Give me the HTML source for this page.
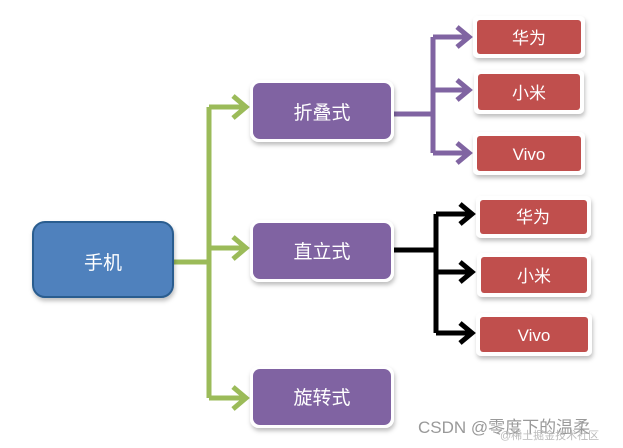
<!DOCTYPE html>
<html><head><meta charset="utf-8"><style>
body{margin:0;background:#fff;width:623px;height:443px;overflow:hidden}
</style></head><body>
<svg width="623" height="443" xmlns="http://www.w3.org/2000/svg" font-family="Liberation Sans, Noto Sans CJK SC, sans-serif">
<defs>
<filter id="s" x="-20%" y="-20%" width="140%" height="150%"><feDropShadow dx="1" dy="3" stdDeviation="2" flood-color="#000" flood-opacity="0.25"/></filter>
</defs>
<g fill="none" stroke-width="5" stroke-linejoin="miter">
<path d="M173 262H209M209 107V398M209 107H245M209 248H245M209 398H245" stroke="#9bbb59"/>
<path d="M233 96L246 107L233 118M233 237L246 248L233 259M233 387L246 398L233 409" stroke="#9bbb59" stroke-width="5"/>
<path d="M394 114H433M433 37V153M433 37H468M433 90H468M433 153H468" stroke="#8064a2"/>
<path d="M457 27L469 37L457 47M457 80L469 90L457 100M457 143L469 153L457 163" stroke="#8064a2"/>
<path d="M394 250H436M436 214V333M436 214H471M436 272H471M436 333H471" stroke="#000"/>
<path d="M460 204L472 214L460 224M460 262L472 272L460 282M460 323L472 333L460 343" stroke="#000"/>
</g>
<g filter="url(#s)">
<rect x="33" y="222" width="140" height="75" rx="12" fill="#4f81bd" stroke="#2c5d8f" stroke-width="2"/>
<rect x="250" y="80" width="144" height="62" rx="9" fill="#fff"/>
<rect x="253" y="83" width="138" height="56" rx="7" fill="#8064a2"/>
<rect x="250" y="220" width="144" height="62" rx="9" fill="#fff"/>
<rect x="253" y="223" width="138" height="56" rx="7" fill="#8064a2"/>
<rect x="250" y="366" width="144" height="62" rx="9" fill="#fff"/>
<rect x="253" y="369" width="138" height="56" rx="7" fill="#8064a2"/>
<g fill="#fff">
<rect x="473" y="16" width="112" height="42" rx="5"/><rect x="474" y="70" width="110" height="44" rx="5"/><rect x="473" y="132" width="112" height="43" rx="5"/>
<rect x="476" y="196" width="115" height="42" rx="5"/><rect x="477" y="253" width="114" height="44" rx="5"/><rect x="476" y="313" width="116" height="43" rx="5"/>
</g>
<g fill="#c0504d">
<rect x="477" y="20" width="104" height="34" rx="3"/><rect x="478" y="74" width="102" height="36" rx="3"/><rect x="477" y="136" width="104" height="35" rx="3"/>
<rect x="480" y="200" width="107" height="34" rx="3"/><rect x="481" y="257" width="106" height="36" rx="3"/><rect x="480" y="317" width="108" height="35" rx="3"/>
</g>
</g>
<g fill="#fff" font-size="19" text-anchor="middle">
<text x="103" y="269">手机</text>
<text x="322" y="119">折叠式</text>
<text x="322" y="258">直立式</text>
<text x="322" y="404">旋转式</text>
<text x="529" y="44" font-size="17">华为</text>
<text x="529" y="99" font-size="17">小米</text>
<text x="529" y="160" font-size="17">Vivo</text>
<text x="533" y="223" font-size="17">华为</text>
<text x="534" y="282" font-size="17">小米</text>
<text x="534" y="341" font-size="17">Vivo</text>
</g>
<text x="418" y="433" font-size="17" fill="#999">CSDN @零度下的温柔</text>
<text x="500" y="439" font-size="11" fill="#bbb">@稀土掘金技术社区</text>
</svg>
</body></html>
